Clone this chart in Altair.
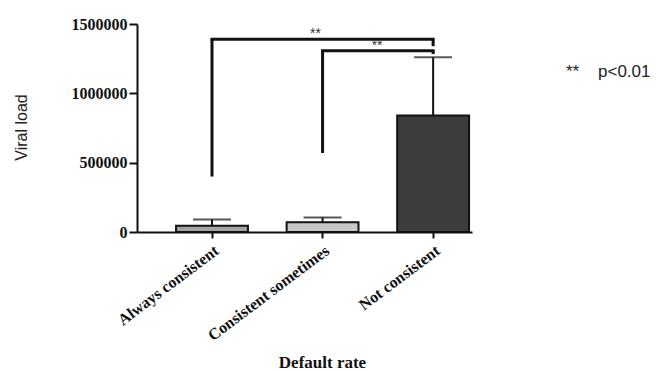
import altair as alt
import pandas as pd

categories = ["Always consistent", "Consistent sometimes", "Not consistent"]
means = [45000, 70000, 840000]
upper = [90000, 105000, 1260000]
fills = ["#a4a4a4", "#c8c8c8", "#3c3c3c"]

# significance brackets: left group, right group, left leg bottom, top, right leg bottom
br_left = ["Always consistent", "Consistent sometimes"]
br_right = ["Not consistent", "Not consistent"]
br_left_bottom = [400000, 570000]
br_top = [1390000, 1307000]
br_right_bottom = [1340000, 1283000]
star_labels = ["**", "**"]

yticks = [0, 500000, 1000000, 1500000]

bars = pd.DataFrame({"cat": categories, "mean": means, "upper": upper, "fill": fills})

xscale = alt.Scale(domain=categories, paddingInner=0.35, paddingOuter=0.19, align=0.93)
yscale = alt.Scale(domain=[0, 1500000], nice=False)

SERIF = "Liberation Serif"
SANS = "Liberation Sans"

x_axis = alt.Axis(
    title="Default rate", labelAngle=-37, labelFont=SERIF, labelFontWeight="bold",
    labelFontSize=16, labelColor="#111", domainColor="#111", domainWidth=2,
    tickColor="#111", tickWidth=2, tickSize=6, labelPadding=4,
    titleFont=SERIF, titleFontWeight="bold", titleFontSize=17, titleColor="#111",
    titleX=185, titleY=135, titleBaseline="alphabetic", titleAlign="center",
)
y_axis = alt.Axis(
    title="Viral load", values=yticks, format="d", labelFont=SERIF, labelFontWeight="bold",
    labelFontSize=16, labelColor="#111", domainColor="#111", domainWidth=2,
    tickColor="#111", tickWidth=2, tickSize=8, labelPadding=2, grid=False,
    titleFont=SANS, titleFontWeight="normal", titleFontSize=16, titleColor="#222",
    titleX=-108, titleY=103, titleAlign="center",
)

base = alt.Chart(bars)

bar = base.mark_bar(stroke="#111", strokeWidth=2).encode(
    x=alt.X("cat:N", scale=xscale, axis=x_axis, sort=categories),
    y=alt.Y("mean:Q", scale=yscale, axis=y_axis),
    fill=alt.Fill("fill:N", scale=None),
)

err = base.mark_rule(color="#111", strokeWidth=2).encode(
    x=alt.X("cat:N", scale=xscale, sort=categories),
    y=alt.Y("mean:Q", scale=yscale),
    y2="upper:Q",
)
cap = base.mark_tick(color="#111", thickness=2, size=38, orient="horizontal").encode(
    x=alt.X("cat:N", scale=xscale, sort=categories),
    y=alt.Y("upper:Q", scale=yscale),
)

br = pd.DataFrame({
    "l": br_left, "r": br_right, "lb": br_left_bottom, "top": br_top, "rb": br_right_bottom,
    "star": star_labels,
})
bbase = alt.Chart(br)
left_leg = bbase.mark_rule(color="#111", strokeWidth=3).encode(
    x=alt.X("l:N", scale=xscale, sort=categories), y=alt.Y("lb:Q", scale=yscale), y2="top:Q")
right_leg = bbase.mark_rule(color="#111", strokeWidth=3).encode(
    x=alt.X("r:N", scale=xscale, sort=categories), y=alt.Y("rb:Q", scale=yscale), y2="top:Q")
horiz = bbase.mark_rule(color="#111", strokeWidth=3, strokeCap="square").encode(
    x=alt.X("l:N", scale=xscale, sort=categories), x2="r:N", y=alt.Y("top:Q", scale=yscale))

# first star label sits over the middle group, second between middle and right group
star1 = alt.Chart(pd.DataFrame({"c": [categories[1]], "v": [br_top[0]], "s": [star_labels[0]]})).mark_text(
    font=SANS, fontSize=14, color="#333", dx=-7, dy=-1, baseline="alphabetic"
).encode(x=alt.X("c:N", scale=xscale, sort=categories), y=alt.Y("v:Q", scale=yscale), text="s:N")
star2 = alt.Chart(pd.DataFrame({"c": [categories[2]], "v": [br_top[1]], "s": [star_labels[1]]})).mark_text(
    font=SANS, fontSize=14, color="#333", dx=-56, dy=-1, baseline="alphabetic"
).encode(x=alt.X("c:N", scale=xscale, sort=categories), y=alt.Y("v:Q", scale=yscale), text="s:N")

legend_star = alt.Chart(pd.DataFrame({"t": ["**"]})).mark_text(
    font=SANS, fontSize=17, color="#222", align="left", baseline="alphabetic"
).encode(x=alt.value(429), y=alt.value(53), text="t:N")
legend_p = alt.Chart(pd.DataFrame({"t": ["p<0.01"]})).mark_text(
    font=SANS, fontSize=17, color="#222", align="left", baseline="alphabetic"
).encode(x=alt.value(461), y=alt.value(53), text="t:N")

chart = alt.layer(
    bar, err, cap, left_leg, right_leg, horiz, star1, star2, legend_star, legend_p
).properties(
    width=335, height=208,
    autosize=alt.AutoSizeParams(type="none"),
    padding={"left": 129, "top": 16, "right": 183, "bottom": 139},
    background="white",
).configure_view(stroke=None)

chart.save("out.html", embed_options={"renderer": "svg", "actions": False})
